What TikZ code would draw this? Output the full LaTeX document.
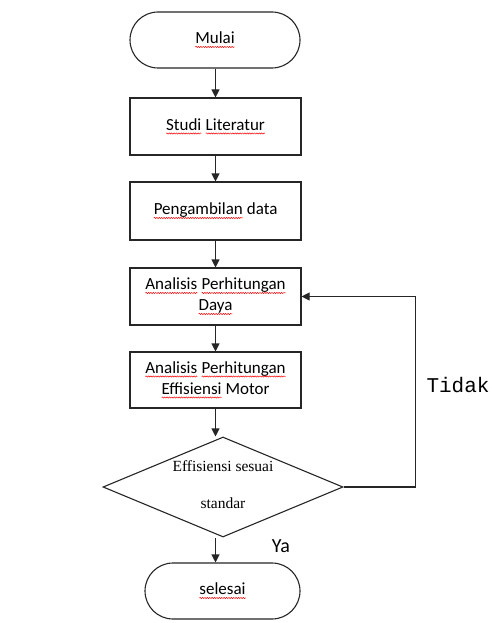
\documentclass[tikz,border=0pt]{standalone}
\usepackage{fontspec}
\setmainfont{Carlito}
\newfontfamily\serifdia{Liberation Serif}
\newfontfamily\monolbl{Liberation Mono}
\usetikzlibrary{shapes.geometric,arrows.meta,decorations.pathmorphing}
\newcommand\sqw[1]{\tikz[baseline=(sqwtmp.base),sharp corners]{\node[shape=rectangle,draw=none,fill=none,inner sep=0pt,outer sep=0pt,minimum width=0pt,minimum height=0pt,sharp corners] (sqwtmp) {#1};\draw[red,line width=0.5pt,sharp corners,decorate,decoration={snake,amplitude=0.6pt,segment length=2.4pt}] ([yshift=-3pt]sqwtmp.base west) -- ([yshift=-3pt]sqwtmp.base east);}}
\tikzset{
  ln/.style={draw=black!85,line width=1.1pt},
  arr/.style={ln,-{Triangle[length=8pt,width=8pt]}},
  boxnode/.style={ln,rectangle,minimum width=171pt,minimum height=57pt,inner sep=0pt,align=center,font=\fontsize{17}{21}\selectfont},
  termnode/.style={ln,rectangle,rounded corners=28pt,minimum height=56pt,inner sep=0pt,align=center,font=\fontsize{17}{21}\selectfont},
  decnode/.style={ln,diamond,minimum width=240pt,minimum height=100pt,inner sep=0pt,aspect=2.4}
}
\begin{document}
\begin{tikzpicture}[x=1pt,y=-1pt]
\useasboundingbox[fill=white] (0,0) rectangle (491,623);
\node[termnode,minimum width=170pt] (mulai) at (215,40) {\sqw{Mulai}};
\node[boxnode] (studi) at (215.5,126.5) {\sqw{Studi} \sqw{Literatur}};
\node[boxnode,minimum height=58pt] (data) at (215.5,211) {\sqw{Pengambilan} data};
\node[boxnode] (daya) at (215.5,296.5) {\sqw{Analisis} \sqw{Perhitungan}\\\sqw{Daya}};
\node[boxnode,minimum height=56pt] (motor) at (215.5,380) {\sqw{Analisis} \sqw{Perhitungan}\\\sqw{Effisiensi} Motor};
\node[decnode] (dec) at (223,487) {};
\node[font=\serifdia\fontsize{15.5}{18}\selectfont] (dtext1) at (223,466) {Effisiensi sesuai};
\node[font=\serifdia\fontsize{15.5}{18}\selectfont] (dtext2) at (223,503) {standar};
\node[termnode,minimum width=155pt] (selesai) at (222.5,591) {\sqw{selesai}};
\node[font=\monolbl\fontsize{21}{24}\selectfont] (tidak) at (458,385) {Tidak};
\node[font=\fontsize{20}{24}\selectfont] (ya) at (281,546) {Ya};
\draw[arr] (mulai.south -| studi.north) -- (studi.north);
\draw[arr] (studi) -- (data);
\draw[arr] (data) -- (daya);
\draw[arr] (daya) -- (motor);
\draw[arr] (motor.south) -- (motor.south |- dec.north);
\draw[arr] (dec.south -| motor.south) -- (selesai.north -| motor.south);
\draw[arr] (dec.east) -- ++(72,0) |- (daya.east);
\end{tikzpicture}
\end{document}
